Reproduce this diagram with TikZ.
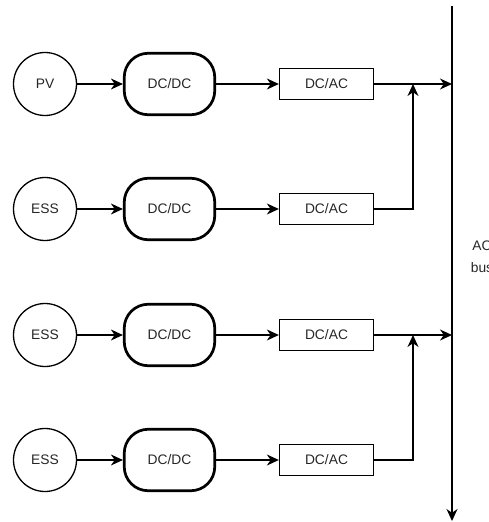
\documentclass[tikz,border=0pt]{standalone}
\usepackage{fontspec}
\setmainfont{Liberation Sans}
\usetikzlibrary{arrows.meta}
\begin{document}
\begin{tikzpicture}[x=1pt,y=-1pt,
  every node/.style={font=\fontsize{13.8}{16}\selectfont, text=black!85},
  src/.style={draw,circle,line width=1.3pt,minimum size=63pt,inner sep=0pt},
  conv/.style={draw,rounded corners=24pt,line width=2.7pt,minimum width=90.5pt,minimum height=61.5pt},
  inv/.style={draw,line width=1.3pt,minimum width=94pt,minimum height=31pt},
  link/.style={line width=1.3pt,-{Stealth[length=12pt,width=11pt,inset=3.8pt]}}]

\useasboundingbox (0,0) rectangle (489,522);

% AC bus
\coordinate (busTop) at (452,6);
\coordinate (busBot) at (452,521);
\draw[link] (busTop) -- (busBot);
\node[align=center] (lbl) at (482,257) {AC\\[6pt]bus};

% four source chains: source -> DC/DC -> DC/AC
\foreach \i/\y/\name in {1/84/PV, 2/209/ESS, 3/335/ESS, 4/460/ESS} {
  \node[src]  (s\i) at (45,\y)    {\name};
  \node[conv] (d\i) at (169.5,\y) {DC/DC};
  \node[inv]  (c\i) at (326.5,\y) {DC/AC};
  \draw[link] (s\i) -- (d\i);
  \draw[link] (d\i) -- (c\i);
}

% junction points on the feeders
\coordinate (j1) at (413,84);
\coordinate (j3) at (413,335);

% upper pair into the bus
\draw[link] (c1.east) -- (c1.east -| busTop);
\draw[link] (c2.east) -| (j1);

% lower pair into the bus
\draw[link] (c3.east) -- (c3.east -| busTop);
\draw[link] (c4.east) -| (j3);
\end{tikzpicture}
\end{document}
